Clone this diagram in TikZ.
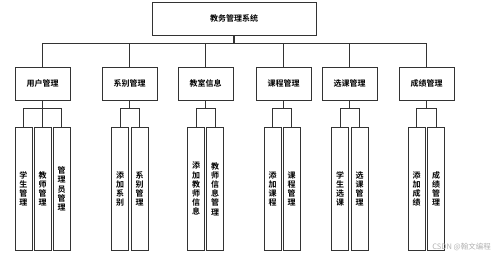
\documentclass[tikz,border=0pt]{standalone}
\usepackage{fontspec}
\newfontfamily\cjk{Noto Sans CJK SC}[BoldFont={Noto Sans CJK SC Bold}]
\begin{document}
\begin{tikzpicture}[x=1pt,y=-1pt,
  box/.style={draw=black!80,line width=0.8pt,minimum width=55pt,minimum height=33pt,inner sep=0pt,font=\cjk\bfseries\fontsize{8}{9}\selectfont},
  leaf/.style={draw=black!80,line width=0.8pt,minimum width=17pt,minimum height=123pt,inner sep=0pt,anchor=north,align=center,font=\cjk\bfseries\fontsize{8}{9.2}\selectfont},
  conn/.style={draw=black!80,line width=0.8pt}]
\useasboundingbox (0,0) rectangle (495,259);
\node[box,minimum width=164pt] (top) at (234,18.5) {教务管理系统};
\coordinate (bus) at (234,43);
\node[box] (a) at (42.5,83.5) {用户管理};
\node[box] (b) at (129.5,83.5) {系别管理};
\node[box] (c) at (205.5,83.5) {教室信息};
\node[box] (d) at (283.5,83.5) {课程管理};
\node[box] (e) at (349.5,83.5) {选课管理};
\node[box] (f) at (426.5,83.5) {成绩管理};
\draw[conn,line width=1.8pt] (top.south) -- (bus);
\foreach \n in {a,b,c,d,e,f}{
  \draw[conn] (\n.north) |- (bus);
  \coordinate (\n j) at ([yshift=-8pt]\n.south);
  \draw[conn] (\n.south) -- (\n j);
}
% leaves
\node[leaf] (a1) at (23.5,127) {学\\生\\管\\理};
\node[leaf] (a2) at (42.5,127) {教\\师\\管\\理};
\node[leaf] (a3) at (61.5,127) {管\\理\\员\\管\\理};
\node[leaf] (b1) at (120,127) {添\\加\\系\\别};
\node[leaf] (b2) at (139.5,127) {系\\别\\管\\理};
\node[leaf] (c1) at (196,127) {添\\加\\教\\师\\信\\息};
\node[leaf] (c2) at (215,127) {教\\师\\信\\息\\管\\理};
\node[leaf] (d1) at (272.5,127) {添\\加\\课\\程};
\node[leaf] (d2) at (291.5,127) {课\\程\\管\\理};
\node[leaf] (e1) at (340,127) {学\\生\\选\\课};
\node[leaf] (e2) at (359.5,127) {选\\课\\管\\理};
\node[leaf] (f1) at (416.5,127) {添\\加\\成\\绩};
\node[leaf] (f2) at (436,127) {成\\绩\\管\\理};
\foreach \p/\c in {a/a1,a/a2,a/a3,b/b1,b/b2,c/c1,c/c2,d/d1,d/d2,e/e1,e/e2,f/f1,f/f2}{
  \draw[conn] (\c.north) |- (\p j);
}
\node[text=black!30,font=\cjk\fontsize{7.5}{8}\selectfont,anchor=east,inner sep=0pt] (wm) at (491,247) {CSDN @翰文编程};
\end{tikzpicture}
\end{document}
